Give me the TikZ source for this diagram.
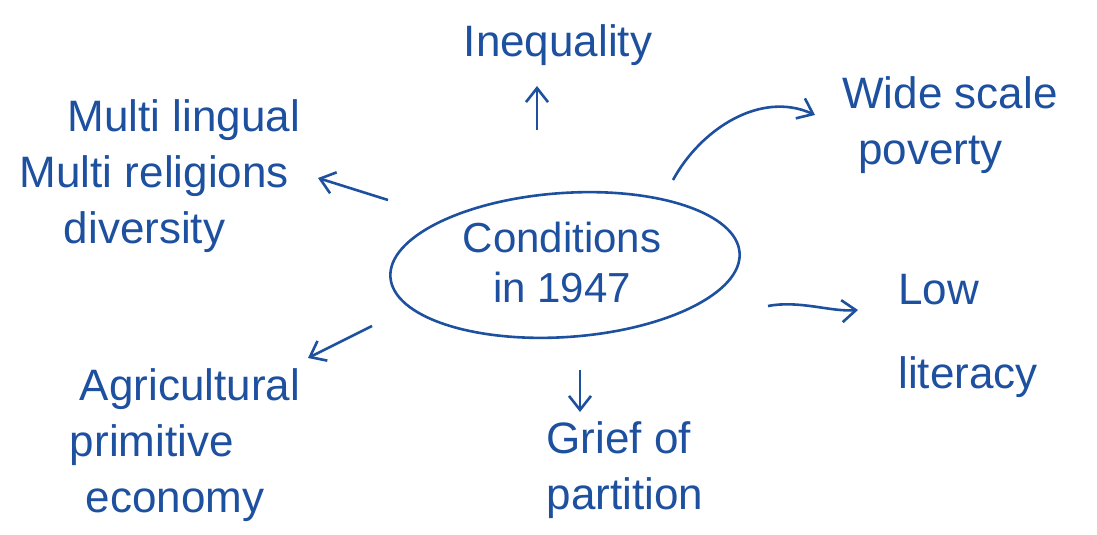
\documentclass[tikz,border=0pt]{standalone}
\usepackage{fontspec}
\setmainfont{Liberation Sans}
\usetikzlibrary{arrows.meta}
\definecolor{ink}{RGB}{30,80,160}
\begin{document}
\begin{tikzpicture}[x=0.5pt,y=-0.5pt,
  lbl/.style={text=ink,font=\fontsize{22}{28}\selectfont,align=center,inner sep=0pt},
  conn/.style={draw=ink,line width=1.3pt,-{Straight Barb[length=7pt,width=11pt]}}]
\useasboundingbox[fill=white] (0,0) rectangle (1097,535);
% central ellipse
\draw[ink,line width=1.3pt,rotate around={4:(565,265)}] (565,265) ellipse[x radius=175,y radius=72];
\node[lbl,font=\fontsize{21}{25}\selectfont] (c) at (562,262) {Conditions\\in 1947};
% outer nodes
\node[lbl] (ineq) at (558,45) {Inequality};
\node[lbl,align=left] (multi) at (160,176) {\hspace*{24pt}Multi lingual\\Multi religions\\\hspace*{22pt}diversity};
\node[lbl,align=left] (pov) at (950,125) {Wide scale\\\hspace*{8pt}poverty};
\node[lbl,align=left] (lit) at (968,336) {Low\\[14pt]literacy};
\node[lbl,align=left] (agri) at (185,445) {\hspace*{5pt}Agricultural\\primitive\\\hspace*{8pt}economy};
\node[lbl,align=left] (grief) at (625,470) {Grief of\\partition};
% connector endpoints
\coordinate (s1) at (537,130); \coordinate (e1) at (537,86);
\coordinate (s2) at (388,200); \coordinate (e2) at (318,178);
\coordinate (s3) at (673,180); \coordinate (e3) at (815,115);
\coordinate (s4) at (768,306); \coordinate (e4) at (858,310);
\coordinate (s5) at (372,326); \coordinate (e5) at (308,358);
\coordinate (s6) at (580,370); \coordinate (e6) at (580,412);
\draw[conn] (s1) -- (e1);
\draw[conn] (s2) -- (e2);
\draw[conn] (s3) .. controls (700,130) and (760,90) .. (e3);
\draw[conn] (s4) .. controls (800,300) and (830,312) .. (e4);
\draw[conn] (s5) -- (e5);
\draw[conn] (s6) -- (e6);
\end{tikzpicture}
\end{document}
